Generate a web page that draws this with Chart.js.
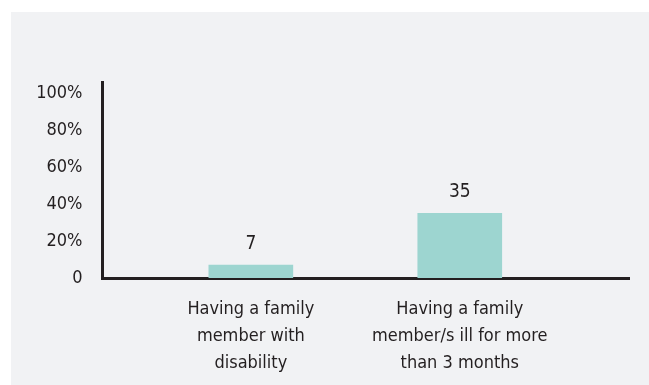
<!DOCTYPE html>
<html>
<head>
<meta charset="utf-8">
<script src="https://cdn.jsdelivr.net/npm/chart.js@4"></script>
<style>
  html, body { margin: 0; padding: 0; background: #fff; }
  #panel { position: absolute; left: 11px; top: 12px; width: 638px; height: 373px; background: #f1f2f4; }
</style>
</head>
<body>
<div id="panel"><canvas id="chart" width="638" height="373"></canvas></div>
<script>
// Data
const categories = [
    ["Having a family", "member with", "disability"],
    ["Having a family", "member/s ill for more", "than 3 months"]
];
const values = [7, 35];
const yTicks = [0, 20, 40, 60, 80, 100];

const FONT = "'Liberation Sans Narrow', 'DejaVu Sans Condensed', Arial, sans-serif";
const INK = "#231f20";

// Value labels above the bars
const barLabels = {
    id: "barLabels",
    afterDatasetsDraw(chart) {
        const ctx = chart.ctx;
        ctx.save();
        ctx.font = `19px ${FONT}`;
        ctx.fillStyle = INK;
        ctx.textAlign = "center";
        ctx.textBaseline = "middle";
        chart.getDatasetMeta(0).data.forEach((bar, i) => {
            ctx.fillText(String(values[i]), bar.x, bar.y - 21);
        });
        ctx.restore();
    }
};

new Chart(document.getElementById("chart"), {
    type: "bar",
    data: {
        datasets: [{
            data: values.map((v, i) => ({ x: i + 1, y: v })),
            backgroundColor: "#9dd5d0",
            barThickness: 84
        }]
    },
    options: {
        responsive: false,
        animation: false,
        layout: { padding: { top: 70, right: 20, left: 0, bottom: 0 } },
        plugins: { legend: { display: false }, tooltip: { enabled: false } },
        scales: {
            x: {
                type: "linear",
                offset: false,
                min: 0.29,
                max: 2.81,
                z: 1,
                grid: { display: false, drawTicks: false },
                border: { color: INK, width: 3 },
                afterBuildTicks: (s) => { s.ticks = categories.map((c, i) => ({ value: i + 1 })); },
                afterFit: (s) => { s.height = 107; },
                ticks: {
                    autoSkip: false,
                    maxRotation: 0,
                    padding: 18,
                    color: INK,
                    font: { family: FONT, size: 18, lineHeight: 1.5 },
                    callback: (v) => categories[v - 1]
                }
            },
            y: {
                min: 0,
                max: 106,
                grid: { display: false, drawTicks: false },
                border: { color: INK, width: 3 },
                afterBuildTicks: (s) => { s.ticks = yTicks.map(v => ({ value: v })); },
                afterFit: (s) => { s.width = 91.5; },
                ticks: {
                    padding: 20,
                    color: INK,
                    font: { family: FONT, size: 18 },
                    callback: (v) => v === 0 ? "0" : v + "%"
                }
            }
        }
    },
    plugins: [barLabels]
});
</script>
</body>
</html>
